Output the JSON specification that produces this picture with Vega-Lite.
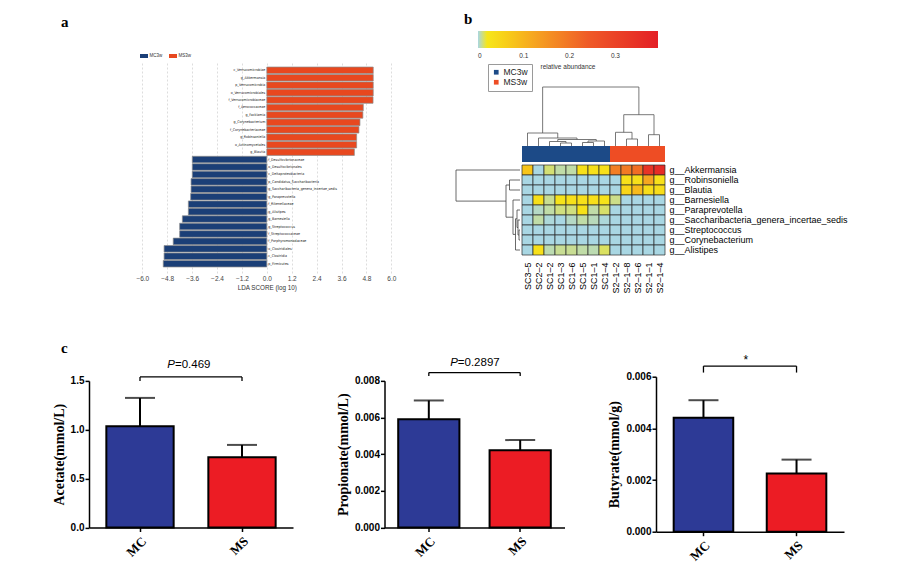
{
  "$schema": "https://vega.github.io/schema/vega-lite/v6.json",
  "background": "white",
  "padding": {"left": 52, "top": 12, "right": 10, "bottom": 10},
  "config": {
    "view": {"stroke": null},
    "axis": {"grid": false, "labelOverlap": false, "labelSeparation": 0},
    "font": "Liberation Sans"
  },
  "datasets": {
    "lda": [
      {"taxon": "c_Verrucomicrobiae", "lda": 5.13, "group": "MS3w"},
      {"taxon": "g_Akkermansia", "lda": 5.13, "group": "MS3w"},
      {"taxon": "p_Verrucomicrobia", "lda": 5.13, "group": "MS3w"},
      {"taxon": "o_Verrucomicrobiales", "lda": 5.13, "group": "MS3w"},
      {"taxon": "f_Verrucomicrobiaceae", "lda": 5.12, "group": "MS3w"},
      {"taxon": "f_Aerococcaceae", "lda": 4.65, "group": "MS3w"},
      {"taxon": "g_Facklamia", "lda": 4.63, "group": "MS3w"},
      {"taxon": "g_Corynebacterium", "lda": 4.49, "group": "MS3w"},
      {"taxon": "f_Corynebacteriaceae", "lda": 4.44, "group": "MS3w"},
      {"taxon": "g_Robinsoniella", "lda": 4.33, "group": "MS3w"},
      {"taxon": "o_Actinomycetales", "lda": 4.33, "group": "MS3w"},
      {"taxon": "g_Blautia", "lda": 4.22, "group": "MS3w"},
      {"taxon": "f_Desulfovibrionaceae", "lda": -3.59, "group": "MC3w"},
      {"taxon": "o_Desulfovibrionales", "lda": -3.59, "group": "MC3w"},
      {"taxon": "c_Deltaproteobacteria", "lda": -3.59, "group": "MC3w"},
      {"taxon": "p_Candidatus_Saccharibacteria", "lda": -3.65, "group": "MC3w"},
      {"taxon": "g_Saccharibacteria_genera_incertae_sedis", "lda": -3.65, "group": "MC3w"},
      {"taxon": "g_Paraprevotella", "lda": -3.67, "group": "MC3w"},
      {"taxon": "f_Rikenellaceae", "lda": -3.78, "group": "MC3w"},
      {"taxon": "g_Alistipes", "lda": -3.78, "group": "MC3w"},
      {"taxon": "g_Barnesiella", "lda": -4.07, "group": "MC3w"},
      {"taxon": "g_Streptococcus", "lda": -4.2, "group": "MC3w"},
      {"taxon": "f_Streptococcaceae", "lda": -4.2, "group": "MC3w"},
      {"taxon": "f_Porphyromonadaceae", "lda": -4.51, "group": "MC3w"},
      {"taxon": "o_Clostridiales", "lda": -4.95, "group": "MC3w"},
      {"taxon": "c_Clostridia", "lda": -4.95, "group": "MC3w"},
      {"taxon": "p_Firmicutes", "lda": -4.99, "group": "MC3w"}
    ],
    "samples": [
      {"sample": "SC3–5", "group": "MC3w"},
      {"sample": "SC2–2", "group": "MC3w"},
      {"sample": "SC1–2", "group": "MC3w"},
      {"sample": "SC1–3", "group": "MC3w"},
      {"sample": "SC1–6", "group": "MC3w"},
      {"sample": "SC1–5", "group": "MC3w"},
      {"sample": "SC1–1", "group": "MC3w"},
      {"sample": "SC1–4", "group": "MC3w"},
      {"sample": "S2–1–2", "group": "MS3w"},
      {"sample": "S2–1–8", "group": "MS3w"},
      {"sample": "S2–1–6", "group": "MS3w"},
      {"sample": "S2–1–1", "group": "MS3w"},
      {"sample": "S2–1–4", "group": "MS3w"}
    ],
    "heat": [
      {"genus": "g__Akkermansia", "sample": "SC3–5", "abundance": 0.075},
      {"genus": "g__Akkermansia", "sample": "SC2–2", "abundance": 0},
      {"genus": "g__Akkermansia", "sample": "SC1–2", "abundance": 0.011},
      {"genus": "g__Akkermansia", "sample": "SC1–3", "abundance": 0.006},
      {"genus": "g__Akkermansia", "sample": "SC1–6", "abundance": 0.006},
      {"genus": "g__Akkermansia", "sample": "SC1–5", "abundance": 0.03},
      {"genus": "g__Akkermansia", "sample": "SC1–1", "abundance": 0.03},
      {"genus": "g__Akkermansia", "sample": "SC1–4", "abundance": 0.03},
      {"genus": "g__Akkermansia", "sample": "S2–1–2", "abundance": 0.185},
      {"genus": "g__Akkermansia", "sample": "S2–1–8", "abundance": 0.19},
      {"genus": "g__Akkermansia", "sample": "S2–1–6", "abundance": 0.21},
      {"genus": "g__Akkermansia", "sample": "S2–1–1", "abundance": 0.34},
      {"genus": "g__Akkermansia", "sample": "S2–1–4", "abundance": 0.36},
      {"genus": "g__Robinsoniella", "sample": "SC3–5", "abundance": 0},
      {"genus": "g__Robinsoniella", "sample": "SC2–2", "abundance": 0},
      {"genus": "g__Robinsoniella", "sample": "SC1–2", "abundance": 0},
      {"genus": "g__Robinsoniella", "sample": "SC1–3", "abundance": 0},
      {"genus": "g__Robinsoniella", "sample": "SC1–6", "abundance": 0},
      {"genus": "g__Robinsoniella", "sample": "SC1–5", "abundance": 0},
      {"genus": "g__Robinsoniella", "sample": "SC1–1", "abundance": 0},
      {"genus": "g__Robinsoniella", "sample": "SC1–4", "abundance": 0},
      {"genus": "g__Robinsoniella", "sample": "S2–1–2", "abundance": 0},
      {"genus": "g__Robinsoniella", "sample": "S2–1–8", "abundance": 0.03},
      {"genus": "g__Robinsoniella", "sample": "S2–1–6", "abundance": 0.03},
      {"genus": "g__Robinsoniella", "sample": "S2–1–1", "abundance": 0.12},
      {"genus": "g__Robinsoniella", "sample": "S2–1–4", "abundance": 0.03},
      {"genus": "g__Blautia", "sample": "SC3–5", "abundance": 0},
      {"genus": "g__Blautia", "sample": "SC2–2", "abundance": 0},
      {"genus": "g__Blautia", "sample": "SC1–2", "abundance": 0},
      {"genus": "g__Blautia", "sample": "SC1–3", "abundance": 0},
      {"genus": "g__Blautia", "sample": "SC1–6", "abundance": 0},
      {"genus": "g__Blautia", "sample": "SC1–5", "abundance": 0},
      {"genus": "g__Blautia", "sample": "SC1–1", "abundance": 0},
      {"genus": "g__Blautia", "sample": "SC1–4", "abundance": 0},
      {"genus": "g__Blautia", "sample": "S2–1–2", "abundance": 0},
      {"genus": "g__Blautia", "sample": "S2–1–8", "abundance": 0.05},
      {"genus": "g__Blautia", "sample": "S2–1–6", "abundance": 0.09},
      {"genus": "g__Blautia", "sample": "S2–1–1", "abundance": 0.035},
      {"genus": "g__Blautia", "sample": "S2–1–4", "abundance": 0.035},
      {"genus": "g__Barnesiella", "sample": "SC3–5", "abundance": 0},
      {"genus": "g__Barnesiella", "sample": "SC2–2", "abundance": 0.03},
      {"genus": "g__Barnesiella", "sample": "SC1–2", "abundance": 0.008},
      {"genus": "g__Barnesiella", "sample": "SC1–3", "abundance": 0.025},
      {"genus": "g__Barnesiella", "sample": "SC1–6", "abundance": 0.03},
      {"genus": "g__Barnesiella", "sample": "SC1–5", "abundance": 0.03},
      {"genus": "g__Barnesiella", "sample": "SC1–1", "abundance": 0.03},
      {"genus": "g__Barnesiella", "sample": "SC1–4", "abundance": 0.025},
      {"genus": "g__Barnesiella", "sample": "S2–1–2", "abundance": 0.009},
      {"genus": "g__Barnesiella", "sample": "S2–1–8", "abundance": 0},
      {"genus": "g__Barnesiella", "sample": "S2–1–6", "abundance": 0},
      {"genus": "g__Barnesiella", "sample": "S2–1–1", "abundance": 0},
      {"genus": "g__Barnesiella", "sample": "S2–1–4", "abundance": 0},
      {"genus": "g__Paraprevotella", "sample": "SC3–5", "abundance": 0},
      {"genus": "g__Paraprevotella", "sample": "SC2–2", "abundance": 0.003},
      {"genus": "g__Paraprevotella", "sample": "SC1–2", "abundance": 0.006},
      {"genus": "g__Paraprevotella", "sample": "SC1–3", "abundance": 0.01},
      {"genus": "g__Paraprevotella", "sample": "SC1–6", "abundance": 0.01},
      {"genus": "g__Paraprevotella", "sample": "SC1–5", "abundance": 0.028},
      {"genus": "g__Paraprevotella", "sample": "SC1–1", "abundance": 0.006},
      {"genus": "g__Paraprevotella", "sample": "SC1–4", "abundance": 0.012},
      {"genus": "g__Paraprevotella", "sample": "S2–1–2", "abundance": 0},
      {"genus": "g__Paraprevotella", "sample": "S2–1–8", "abundance": 0},
      {"genus": "g__Paraprevotella", "sample": "S2–1–6", "abundance": 0},
      {"genus": "g__Paraprevotella", "sample": "S2–1–1", "abundance": 0},
      {"genus": "g__Paraprevotella", "sample": "S2–1–4", "abundance": 0},
      {"genus": "g__Saccharibacteria_genera_incertae_sedis", "sample": "SC3–5", "abundance": 0},
      {"genus": "g__Saccharibacteria_genera_incertae_sedis", "sample": "SC2–2", "abundance": 0.006},
      {"genus": "g__Saccharibacteria_genera_incertae_sedis", "sample": "SC1–2", "abundance": 0.001},
      {"genus": "g__Saccharibacteria_genera_incertae_sedis", "sample": "SC1–3", "abundance": 0},
      {"genus": "g__Saccharibacteria_genera_incertae_sedis", "sample": "SC1–6", "abundance": 0.003},
      {"genus": "g__Saccharibacteria_genera_incertae_sedis", "sample": "SC1–5", "abundance": 0.006},
      {"genus": "g__Saccharibacteria_genera_incertae_sedis", "sample": "SC1–1", "abundance": 0.004},
      {"genus": "g__Saccharibacteria_genera_incertae_sedis", "sample": "SC1–4", "abundance": 0.001},
      {"genus": "g__Saccharibacteria_genera_incertae_sedis", "sample": "S2–1–2", "abundance": 0},
      {"genus": "g__Saccharibacteria_genera_incertae_sedis", "sample": "S2–1–8", "abundance": 0},
      {"genus": "g__Saccharibacteria_genera_incertae_sedis", "sample": "S2–1–6", "abundance": 0},
      {"genus": "g__Saccharibacteria_genera_incertae_sedis", "sample": "S2–1–1", "abundance": 0},
      {"genus": "g__Saccharibacteria_genera_incertae_sedis", "sample": "S2–1–4", "abundance": 0},
      {"genus": "g__Streptococcus", "sample": "SC3–5", "abundance": 0},
      {"genus": "g__Streptococcus", "sample": "SC2–2", "abundance": 0},
      {"genus": "g__Streptococcus", "sample": "SC1–2", "abundance": 0},
      {"genus": "g__Streptococcus", "sample": "SC1–3", "abundance": 0},
      {"genus": "g__Streptococcus", "sample": "SC1–6", "abundance": 0},
      {"genus": "g__Streptococcus", "sample": "SC1–5", "abundance": 0},
      {"genus": "g__Streptococcus", "sample": "SC1–1", "abundance": 0},
      {"genus": "g__Streptococcus", "sample": "SC1–4", "abundance": 0},
      {"genus": "g__Streptococcus", "sample": "S2–1–2", "abundance": 0},
      {"genus": "g__Streptococcus", "sample": "S2–1–8", "abundance": 0},
      {"genus": "g__Streptococcus", "sample": "S2–1–6", "abundance": 0},
      {"genus": "g__Streptococcus", "sample": "S2–1–1", "abundance": 0},
      {"genus": "g__Streptococcus", "sample": "S2–1–4", "abundance": 0},
      {"genus": "g__Corynebacterium", "sample": "SC3–5", "abundance": 0},
      {"genus": "g__Corynebacterium", "sample": "SC2–2", "abundance": 0},
      {"genus": "g__Corynebacterium", "sample": "SC1–2", "abundance": 0},
      {"genus": "g__Corynebacterium", "sample": "SC1–3", "abundance": 0},
      {"genus": "g__Corynebacterium", "sample": "SC1–6", "abundance": 0},
      {"genus": "g__Corynebacterium", "sample": "SC1–5", "abundance": 0},
      {"genus": "g__Corynebacterium", "sample": "SC1–1", "abundance": 0},
      {"genus": "g__Corynebacterium", "sample": "SC1–4", "abundance": 0},
      {"genus": "g__Corynebacterium", "sample": "S2–1–2", "abundance": 0},
      {"genus": "g__Corynebacterium", "sample": "S2–1–8", "abundance": 0},
      {"genus": "g__Corynebacterium", "sample": "S2–1–6", "abundance": 0},
      {"genus": "g__Corynebacterium", "sample": "S2–1–1", "abundance": 0},
      {"genus": "g__Corynebacterium", "sample": "S2–1–4", "abundance": 0},
      {"genus": "g__Alistipes", "sample": "SC3–5", "abundance": 0},
      {"genus": "g__Alistipes", "sample": "SC2–2", "abundance": 0.03},
      {"genus": "g__Alistipes", "sample": "SC1–2", "abundance": 0.005},
      {"genus": "g__Alistipes", "sample": "SC1–3", "abundance": 0.008},
      {"genus": "g__Alistipes", "sample": "SC1–6", "abundance": 0.008},
      {"genus": "g__Alistipes", "sample": "SC1–5", "abundance": 0.006},
      {"genus": "g__Alistipes", "sample": "SC1–1", "abundance": 0.005},
      {"genus": "g__Alistipes", "sample": "SC1–4", "abundance": 0.013},
      {"genus": "g__Alistipes", "sample": "S2–1–2", "abundance": 0},
      {"genus": "g__Alistipes", "sample": "S2–1–8", "abundance": 0},
      {"genus": "g__Alistipes", "sample": "S2–1–6", "abundance": 0},
      {"genus": "g__Alistipes", "sample": "S2–1–1", "abundance": 0},
      {"genus": "g__Alistipes", "sample": "S2–1–4", "abundance": 0}
    ],
    "coltree": [
      {"x1": 2.375, "x2": 11.125, "h1": 59, "h2": 59},
      {"x1": 2.375, "x2": 2.375, "h1": 13, "h2": 59},
      {"x1": 11.125, "x2": 11.125, "h1": 31.3, "h2": 59},
      {"x1": 1, "x2": 3.75, "h1": 13, "h2": 13},
      {"x1": 1, "x2": 1, "h1": 0, "h2": 13},
      {"x1": 3.75, "x2": 3.75, "h1": 8, "h2": 13},
      {"x1": 2, "x2": 5.5, "h1": 8, "h2": 8},
      {"x1": 2, "x2": 2, "h1": 0, "h2": 8},
      {"x1": 5.5, "x2": 5.5, "h1": 6.5, "h2": 8},
      {"x1": 3.75, "x2": 7.25, "h1": 6.5, "h2": 6.5},
      {"x1": 3.75, "x2": 3.75, "h1": 4.5, "h2": 6.5},
      {"x1": 7.25, "x2": 7.25, "h1": 5, "h2": 6.5},
      {"x1": 3, "x2": 4.5, "h1": 4.5, "h2": 4.5},
      {"x1": 3, "x2": 3, "h1": 0, "h2": 4.5},
      {"x1": 4.5, "x2": 4.5, "h1": 3, "h2": 4.5},
      {"x1": 4, "x2": 5, "h1": 3, "h2": 3},
      {"x1": 4, "x2": 4, "h1": 0, "h2": 3},
      {"x1": 5, "x2": 5, "h1": 0, "h2": 3},
      {"x1": 6.5, "x2": 8, "h1": 5, "h2": 5},
      {"x1": 6.5, "x2": 6.5, "h1": 3.5, "h2": 5},
      {"x1": 8, "x2": 8, "h1": 0, "h2": 5},
      {"x1": 6, "x2": 7, "h1": 3.5, "h2": 3.5},
      {"x1": 6, "x2": 6, "h1": 0, "h2": 3.5},
      {"x1": 7, "x2": 7, "h1": 0, "h2": 3.5},
      {"x1": 9.75, "x2": 12.5, "h1": 31.3, "h2": 31.3},
      {"x1": 9.75, "x2": 9.75, "h1": 13.7, "h2": 31.3},
      {"x1": 12.5, "x2": 12.5, "h1": 11.3, "h2": 31.3},
      {"x1": 9, "x2": 10.5, "h1": 13.7, "h2": 13.7},
      {"x1": 9, "x2": 9, "h1": 0, "h2": 13.7},
      {"x1": 10.5, "x2": 10.5, "h1": 7, "h2": 13.7},
      {"x1": 10, "x2": 11, "h1": 7, "h2": 7},
      {"x1": 10, "x2": 10, "h1": 0, "h2": 7},
      {"x1": 11, "x2": 11, "h1": 0, "h2": 7},
      {"x1": 12, "x2": 13, "h1": 11.3, "h2": 11.3},
      {"x1": 12, "x2": 12, "h1": 0, "h2": 11.3},
      {"x1": 13, "x2": 13, "h1": 0, "h2": 11.3}
    ],
    "rowtree": [
      {"d1": 64, "d2": 64, "r1": 1, "r2": 4.11},
      {"d1": 0, "d2": 64, "r1": 1, "r2": 1},
      {"d1": 14, "d2": 64, "r1": 4.11, "r2": 4.11},
      {"d1": 14, "d2": 14, "r1": 2.5, "r2": 5.72},
      {"d1": 10.5, "d2": 14, "r1": 2.5, "r2": 2.5},
      {"d1": 7, "d2": 14, "r1": 5.72, "r2": 5.72},
      {"d1": 10.5, "d2": 10.5, "r1": 2, "r2": 3},
      {"d1": 0, "d2": 10.5, "r1": 2, "r2": 2},
      {"d1": 0, "d2": 10.5, "r1": 3, "r2": 3},
      {"d1": 7, "d2": 7, "r1": 4, "r2": 7.44},
      {"d1": 0, "d2": 7, "r1": 4, "r2": 4},
      {"d1": 4.5, "d2": 7, "r1": 7.44, "r2": 7.44},
      {"d1": 4.5, "d2": 4.5, "r1": 5.875, "r2": 9},
      {"d1": 3, "d2": 4.5, "r1": 5.875, "r2": 5.875},
      {"d1": 0, "d2": 4.5, "r1": 9, "r2": 9},
      {"d1": 3, "d2": 3, "r1": 5, "r2": 6.75},
      {"d1": 0, "d2": 3, "r1": 5, "r2": 5},
      {"d1": 2, "d2": 3, "r1": 6.75, "r2": 6.75},
      {"d1": 2, "d2": 2, "r1": 6, "r2": 7.5},
      {"d1": 0, "d2": 2, "r1": 6, "r2": 6},
      {"d1": 1, "d2": 2, "r1": 7.5, "r2": 7.5},
      {"d1": 1, "d2": 1, "r1": 7, "r2": 8},
      {"d1": 0, "d2": 1, "r1": 7, "r2": 7},
      {"d1": 0, "d2": 1, "r1": 8, "r2": 8}
    ],
    "scfa": [
      {"acid": "Acetate", "group": "MC", "mean": 1.037, "upper": 1.326},
      {"acid": "Acetate", "group": "MS", "mean": 0.72, "upper": 0.845},
      {"acid": "Propionate", "group": "MC", "mean": 0.00591, "upper": 0.00693},
      {"acid": "Propionate", "group": "MS", "mean": 0.00422, "upper": 0.00477},
      {"acid": "Butyrate", "group": "MC", "mean": 0.00441, "upper": 0.00509},
      {"acid": "Butyrate", "group": "MS", "mean": 0.00225, "upper": 0.00279}
    ],
    "brackets": [
      {"acid": "Acetate", "left": "MC", "right": "MS", "top": 1.541, "bottom": 1.5, "label_y": 1.665, "p_symbol": "P", "p_value": "=0.469"},
      {"acid": "Propionate", "left": "MC", "right": "MS", "top": 0.00845, "bottom": 0.00826, "label_y": 0.0090, "p_symbol": "P", "p_value": "=0.2897"},
      {"acid": "Butyrate", "left": "MC", "right": "MS", "top": 0.00641, "bottom": 0.00616, "label_y": 0.00666, "p_symbol": "", "p_value": "*"}
    ]
  },
  "bounds": "flush",
  "spacing": 315.7,
  "resolve": {"scale": {"color": "independent"}, "legend": {"color": "independent"}},
  "vconcat": [
    {
      "bounds": "flush",
      "spacing": 2,
      "resolve": {"scale": {"color": "independent"}, "legend": {"color": "independent"}},
      "hconcat": [
        {
          "width": 302.3,
          "height": 212,
          "data": {"name": "lda"},
          "title": {"text": "a", "anchor": "start", "frame": "group", "dx": -28, "offset": 22, "font": "Liberation Serif", "fontSize": 15, "fontWeight": "bold", "color": "black"},
          "encoding": {
            "y": {"field": "taxon", "type": "nominal", "sort": null, "axis": null, "scale": {"paddingInner": 0.12, "paddingOuter": 0.81}},
            "x": {
              "field": "lda", "type": "quantitative",
              "scale": {"domain": [-8.569, 6], "nice": false, "zero": false},
              "axis": {
                "values": [-6, -4.8, -3.6, -2.4, -1.2, 0, 1.2, 2.4, 3.6, 4.8, 6], "tickCount": 20,
                "format": ".1f", "grid": true, "gridDash": [2, 2], "gridColor": "#cfcfcf", "gridWidth": 0.7,
                "domain": false, "ticks": false, "labelOverlap": false, "labelSeparation": 0, "labelBound": false, "labelFlush": false,
                "labelFont": "Liberation Sans", "labelFontSize": 6.5, "labelColor": "#444", "labelPadding": 2,
                "title": "LDA SCORE (log 10)", "titleFont": "Liberation Sans",
                "titleFontSize": 6.3, "titleFontWeight": "normal", "titleColor": "#333",
                "titleX": 177.8, "titleAlign": "center", "titlePadding": 3
              }
            }
          },
          "layer": [
            {
              "mark": {"type": "bar", "stroke": "#8c8c8c", "strokeWidth": 0.7},
              "encoding": {
                "color": {
                  "field": "group", "type": "nominal",
                  "scale": {"domain": ["MC3w", "MS3w"], "range": ["#1b3f77", "#e8481f"]},
                  "legend": {
                    "orient": "none", "legendX": 51, "legendY": -9, "direction": "horizontal", "title": null,
                    "symbolType": "M-1,-0.5H1V0.5H-1Z", "symbolSize": 64, "symbolStrokeWidth": 0,
                    "labelFontSize": 4.5, "labelOffset": 1.5, "columnPadding": 6, "padding": 0,
                    "labelColor": "#333"
                  }
                }
              }
            },
            {
              "transform": [{"filter": "datum.lda > 0"}],
              "mark": {"type": "text", "align": "right", "baseline": "middle", "dx": -1.5, "fontSize": 3.6, "font": "Liberation Sans Narrow, DejaVu Sans Condensed, sans-serif", "color": "#222"},
              "encoding": {"x": {"datum": 0, "type": "quantitative"}, "text": {"field": "taxon"}}
            },
            {
              "transform": [{"filter": "datum.lda < 0"}],
              "mark": {"type": "text", "align": "left", "baseline": "middle", "dx": 1.5, "fontSize": 3.6, "font": "Liberation Sans Narrow, DejaVu Sans Condensed, sans-serif", "color": "#222"},
              "encoding": {"x": {"datum": 0, "type": "quantitative"}, "text": {"field": "taxon"}}
            }
          ]
        },
        {
          "width": 60,
          "height": 1,
          "data": {"values": []},
          "mark": {"type": "point", "opacity": 0},
          "encoding": {}
        },
        {
          "width": 64,
          "height": 194,
          "data": {"name": "rowtree"},
          "mark": {"type": "rule", "color": "#444", "strokeWidth": 0.8},
          "encoding": {
            "x": {"field": "d1", "type": "quantitative", "scale": {"domain": [0, 64], "reverse": true, "nice": false, "zero": false}, "axis": null},
            "x2": {"field": "d2"},
            "y": {"field": "r1", "type": "quantitative", "scale": {"domain": [-9.9, 9.5], "reverse": true, "nice": false, "zero": false}, "axis": null},
            "y2": {"field": "r2"}
          }
        },
        {
          "width": 143,
          "height": 194,
          "title": {"text": "b", "anchor": "start", "frame": "group", "dx": -58, "offset": 4, "font": "Liberation Serif", "fontSize": 15, "fontWeight": "bold", "color": "black"},
          "resolve": {"scale": {"x": "independent", "y": "independent", "color": "independent"}, "legend": {"color": "independent"}},
          "layer": [
            {
              "data": {"name": "coltree"},
              "mark": {"type": "rule", "color": "#555", "strokeWidth": 0.8},
              "encoding": {
                "x": {"field": "x1", "type": "quantitative", "scale": {"domain": [0.5, 13.5], "nice": false, "zero": false}, "axis": null},
                "x2": {"field": "x2"},
                "y": {"field": "h1", "type": "quantitative", "scale": {"domain": [-109, 85], "nice": false, "zero": false}, "axis": null},
                "y2": {"field": "h2"}
              }
            },
            {
              "data": {"name": "samples"},
              "mark": {"type": "rect"},
              "encoding": {
                "x": {"field": "sample", "type": "nominal", "sort": null, "axis": null, "scale": {"paddingInner": 0, "paddingOuter": 0}},
                "y": {"datum": 0, "type": "quantitative", "scale": {"domain": [-109, 85], "nice": false, "zero": false}, "axis": null},
                "y2": {"datum": -16},
                "color": {
                  "field": "group", "type": "nominal",
                  "scale": {"domain": ["MC3w", "MS3w"], "range": ["#1c4a87", "#ee4d24"]},
                  "legend": {
                    "orient": "none", "legendX": -34, "legendY": 3, "title": null,
                    "strokeColor": "#9a9a9a", "padding": 4, "symbolType": "square", "symbolSize": 22,
                    "symbolStrokeWidth": 0, "labelFontSize": 8.5, "labelFont": "Liberation Sans",
                    "labelColor": "#222", "rowPadding": 1, "labelOffset": 3
                  }
                }
              }
            },
            {
              "data": {"name": "heat"},
              "mark": {"type": "rect", "stroke": "#2a2a2a", "strokeWidth": 0.7},
              "encoding": {
                "x": {
                  "field": "sample", "type": "nominal", "sort": null,
                  "scale": {"paddingInner": 0, "paddingOuter": 0},
                  "axis": {"orient": "bottom", "title": null, "labelAngle": -90, "labelFontSize": 9, "labelFont": "Liberation Sans", "labelColor": "black", "domain": false, "ticks": false, "labelPadding": 7}
                },
                "y": {
                  "field": "genus", "type": "nominal", "sort": null,
                  "scale": {"paddingInner": 0, "paddingOuter": 0, "range": [104, 194]},
                  "axis": {"orient": "right", "title": null, "labelFontSize": 9, "labelFont": "Liberation Sans", "labelColor": "black", "domain": false, "ticks": false, "labelPadding": 4}
                },
                "color": {
                  "field": "abundance", "type": "quantitative",
                  "scale": {"domain": [0, 0.02, 0.06, 0.13, 0.24, 0.393], "range": ["#a9d7e3", "#f6e61a", "#f8cf18", "#f6a021", "#ef5b27", "#e41f26"], "interpolate": "rgb"},
                  "legend": {
                    "orient": "none", "legendX": -44, "legendY": -30, "direction": "horizontal",
                    "gradientLength": 180, "gradientThickness": 17, "gradientStrokeWidth": 0,
                    "values": [0, 0.1, 0.2, 0.3], "format": ".1~f",
                    "labelFontSize": 6.5, "labelColor": "#333", "labelOffset": 5,
                    "title": "relative abundance", "titleOrient": "bottom", "titleAnchor": "middle",
                    "titleFontSize": 6.5, "titleFontWeight": "normal", "titleColor": "#333", "titlePadding": 4,
                    "padding": 0
                  }
                }
              }
            }
          ]
        }
      ]
    },
    {
      "bounds": "flush",
      "spacing": 91.5,
      "center": true,
      "hconcat": [
        {
          "width": 204,
          "height": 146.6,
          "title": {"text": "c", "anchor": "start", "frame": "group", "dx": -28, "offset": 3, "font": "Liberation Serif", "fontSize": 15, "fontWeight": "bold", "color": "black"},
          "layer": [
            {
              "data": {"name": "scfa"},
              "transform": [{"filter": "datum.acid === 'Acetate'"}],
              "mark": {"type": "bar", "stroke": "black", "strokeWidth": 2},
              "encoding": {
                "x": {
                  "field": "group", "type": "nominal", "sort": null,
                  "scale": {"paddingInner": 0.34, "paddingOuter": 0.17},
                  "axis": {"title": null, "labelAngle": -45, "labelFont": "Liberation Serif", "labelFontWeight": "bold", "labelFontSize": 13, "labelColor": "black", "tickSize": 4, "tickColor": "black", "tickWidth": 1.5, "domainColor": "black", "domainWidth": 1.5, "labelPadding": 3}
                },
                "y": {
                  "field": "mean", "type": "quantitative",
                  "scale": {"domain": [0, 1.5], "nice": false},
                  "axis": {"title": "Acetate(mmol/L)", "values": [0, 0.5, 1, 1.5], "tickCount": 20, "format": ".1f", "labelOverlap": false, "titleFont": "Liberation Serif", "titleFontSize": 14, "titleFontWeight": "bold", "titleColor": "black", "titlePadding": 4, "labelFont": "Liberation Sans", "labelFontWeight": "bold", "labelFontSize": 10, "labelColor": "black", "labelPadding": 1, "tickSize": 4, "tickColor": "black", "tickWidth": 1.5, "domainColor": "black", "domainWidth": 1.5}
                },
                "color": {"field": "group", "type": "nominal", "scale": {"domain": ["MC", "MS"], "range": ["#2d3a96", "#ec1c24"]}, "legend": null}
              }
            },
            {
              "data": {"name": "scfa"},
              "transform": [{"filter": "datum.acid === 'Acetate'"}],
              "mark": {"type": "rule", "strokeWidth": 2, "color": "black"},
              "encoding": {"x": {"field": "group", "type": "nominal", "sort": null}, "y": {"field": "mean", "type": "quantitative"}, "y2": {"field": "upper"}}
            },
            {
              "data": {"name": "scfa"},
              "transform": [{"filter": "datum.acid === 'Acetate'"}],
              "mark": {"type": "tick", "thickness": 2, "size": 30, "color": "black"},
              "encoding": {"x": {"field": "group", "type": "nominal", "sort": null}, "y": {"field": "upper", "type": "quantitative"}}
            },
            {
              "data": {"name": "brackets"},
              "transform": [{"filter": "datum.acid === 'Acetate'"}],
              "mark": {"type": "rule", "strokeWidth": 1.3, "color": "black"},
              "encoding": {"x": {"field": "left", "type": "nominal"}, "x2": {"field": "right"}, "y": {"field": "top", "type": "quantitative"}}
            },
            {
              "data": {"name": "brackets"},
              "transform": [{"filter": "datum.acid === 'Acetate'"}, {"fold": ["left", "right"], "as": ["side", "end"]}],
              "mark": {"type": "rule", "strokeWidth": 1.3, "color": "black"},
              "encoding": {"x": {"field": "end", "type": "nominal"}, "y": {"field": "top", "type": "quantitative"}, "y2": {"field": "bottom"}}
            },
            {
              "data": {"name": "brackets"},
              "transform": [{"filter": "datum.acid === 'Acetate'"}],
              "mark": {"type": "text", "align": "right", "baseline": "middle", "dx": 35, "fontStyle": "italic", "fontSize": 11.5, "font": "Liberation Sans", "color": "black"},
              "encoding": {"x": {"field": "left", "type": "nominal"}, "y": {"field": "label_y", "type": "quantitative"}, "text": {"field": "p_symbol"}}
            },
            {
              "data": {"name": "brackets"},
              "transform": [{"filter": "datum.acid === 'Acetate'"}],
              "mark": {"type": "text", "align": "left", "baseline": "middle", "dx": 35, "fontSize": 11.5, "font": "Liberation Sans", "color": "black"},
              "encoding": {"x": {"field": "left", "type": "nominal"}, "y": {"field": "label_y", "type": "quantitative"}, "text": {"field": "p_value"}}
            }
          ]
        },
        {
          "width": 180,
          "height": 146.7,
          "layer": [
            {
              "data": {"name": "scfa"},
              "transform": [{"filter": "datum.acid === 'Propionate'"}],
              "mark": {"type": "bar", "stroke": "black", "strokeWidth": 2},
              "encoding": {
                "x": {
                  "field": "group", "type": "nominal", "sort": null,
                  "scale": {"paddingInner": 0.33, "paddingOuter": 0.15},
                  "axis": {"title": null, "labelAngle": -45, "labelFont": "Liberation Serif", "labelFontWeight": "bold", "labelFontSize": 13, "labelColor": "black", "tickSize": 4, "tickColor": "black", "tickWidth": 1.5, "domainColor": "black", "domainWidth": 1.5, "labelPadding": 3}
                },
                "y": {
                  "field": "mean", "type": "quantitative",
                  "scale": {"domain": [0, 0.008], "nice": false},
                  "axis": {"title": "Propionate(mmol/L)", "values": [0, 0.002, 0.004, 0.006, 0.008], "tickCount": 20, "format": ".3f", "labelOverlap": false, "titleFont": "Liberation Serif", "titleFontSize": 14, "titleFontWeight": "bold", "titleColor": "black", "titlePadding": 4, "labelFont": "Liberation Sans", "labelFontWeight": "bold", "labelFontSize": 10, "labelColor": "black", "labelPadding": 1, "tickSize": 4, "tickColor": "black", "tickWidth": 1.5, "domainColor": "black", "domainWidth": 1.5}
                },
                "color": {"field": "group", "type": "nominal", "scale": {"domain": ["MC", "MS"], "range": ["#2d3a96", "#ec1c24"]}, "legend": null}
              }
            },
            {
              "data": {"name": "scfa"},
              "transform": [{"filter": "datum.acid === 'Propionate'"}],
              "mark": {"type": "rule", "strokeWidth": 2, "color": "black"},
              "encoding": {"x": {"field": "group", "type": "nominal", "sort": null}, "y": {"field": "mean", "type": "quantitative"}, "y2": {"field": "upper"}}
            },
            {
              "data": {"name": "scfa"},
              "transform": [{"filter": "datum.acid === 'Propionate'"}],
              "mark": {"type": "tick", "thickness": 2, "size": 30, "color": "black"},
              "encoding": {"x": {"field": "group", "type": "nominal", "sort": null}, "y": {"field": "upper", "type": "quantitative"}}
            },
            {
              "data": {"name": "brackets"},
              "transform": [{"filter": "datum.acid === 'Propionate'"}],
              "mark": {"type": "rule", "strokeWidth": 1.3, "color": "black"},
              "encoding": {"x": {"field": "left", "type": "nominal"}, "x2": {"field": "right"}, "y": {"field": "top", "type": "quantitative"}}
            },
            {
              "data": {"name": "brackets"},
              "transform": [{"filter": "datum.acid === 'Propionate'"}, {"fold": ["left", "right"], "as": ["side", "end"]}],
              "mark": {"type": "rule", "strokeWidth": 1.3, "color": "black"},
              "encoding": {"x": {"field": "end", "type": "nominal"}, "y": {"field": "top", "type": "quantitative"}, "y2": {"field": "bottom"}}
            },
            {
              "data": {"name": "brackets"},
              "transform": [{"filter": "datum.acid === 'Propionate'"}],
              "mark": {"type": "text", "align": "right", "baseline": "middle", "dx": 29, "fontStyle": "italic", "fontSize": 11.5, "font": "Liberation Sans", "color": "black"},
              "encoding": {"x": {"field": "left", "type": "nominal"}, "y": {"field": "label_y", "type": "quantitative"}, "text": {"field": "p_symbol"}}
            },
            {
              "data": {"name": "brackets"},
              "transform": [{"filter": "datum.acid === 'Propionate'"}],
              "mark": {"type": "text", "align": "left", "baseline": "middle", "dx": 29, "fontSize": 11.5, "font": "Liberation Sans", "color": "black"},
              "encoding": {"x": {"field": "left", "type": "nominal"}, "y": {"field": "label_y", "type": "quantitative"}, "text": {"field": "p_value"}}
            }
          ]
        },
        {
          "width": 188,
          "height": 155,
          "layer": [
            {
              "data": {"name": "scfa"},
              "transform": [{"filter": "datum.acid === 'Butyrate'"}],
              "mark": {"type": "bar", "stroke": "black", "strokeWidth": 2},
              "encoding": {
                "x": {
                  "field": "group", "type": "nominal", "sort": null,
                  "scale": {"paddingInner": 0.36, "paddingOuter": 0.19},
                  "axis": {"title": null, "labelAngle": -45, "labelFont": "Liberation Serif", "labelFontWeight": "bold", "labelFontSize": 13, "labelColor": "black", "tickSize": 4, "tickColor": "black", "tickWidth": 1.5, "domainColor": "black", "domainWidth": 1.5, "labelPadding": 3}
                },
                "y": {
                  "field": "mean", "type": "quantitative",
                  "scale": {"domain": [0, 0.006], "nice": false},
                  "axis": {"title": "Butyrate(mmol/g)", "values": [0, 0.002, 0.004, 0.006], "tickCount": 20, "format": ".3f", "labelOverlap": false, "titleFont": "Liberation Serif", "titleFontSize": 14, "titleFontWeight": "bold", "titleColor": "black", "titlePadding": 4, "labelFont": "Liberation Sans", "labelFontWeight": "bold", "labelFontSize": 10, "labelColor": "black", "labelPadding": 1, "tickSize": 4, "tickColor": "black", "tickWidth": 1.5, "domainColor": "black", "domainWidth": 1.5}
                },
                "color": {"field": "group", "type": "nominal", "scale": {"domain": ["MC", "MS"], "range": ["#2d3a96", "#ec1c24"]}, "legend": null}
              }
            },
            {
              "data": {"name": "scfa"},
              "transform": [{"filter": "datum.acid === 'Butyrate'"}],
              "mark": {"type": "rule", "strokeWidth": 2, "color": "black"},
              "encoding": {"x": {"field": "group", "type": "nominal", "sort": null}, "y": {"field": "mean", "type": "quantitative"}, "y2": {"field": "upper"}}
            },
            {
              "data": {"name": "scfa"},
              "transform": [{"filter": "datum.acid === 'Butyrate'"}],
              "mark": {"type": "tick", "thickness": 2, "size": 30, "color": "black"},
              "encoding": {"x": {"field": "group", "type": "nominal", "sort": null}, "y": {"field": "upper", "type": "quantitative"}}
            },
            {
              "data": {"name": "brackets"},
              "transform": [{"filter": "datum.acid === 'Butyrate'"}],
              "mark": {"type": "rule", "strokeWidth": 1.3, "color": "black"},
              "encoding": {"x": {"field": "left", "type": "nominal"}, "x2": {"field": "right"}, "y": {"field": "top", "type": "quantitative"}}
            },
            {
              "data": {"name": "brackets"},
              "transform": [{"filter": "datum.acid === 'Butyrate'"}, {"fold": ["left", "right"], "as": ["side", "end"]}],
              "mark": {"type": "rule", "strokeWidth": 1.3, "color": "black"},
              "encoding": {"x": {"field": "end", "type": "nominal"}, "y": {"field": "top", "type": "quantitative"}, "y2": {"field": "bottom"}}
            },
            {
              "data": {"name": "brackets"},
              "transform": [{"filter": "datum.acid === 'Butyrate'"}],
              "mark": {"type": "text", "align": "left", "baseline": "middle", "dx": 40, "fontSize": 12, "font": "Liberation Sans", "color": "black"},
              "encoding": {"x": {"field": "left", "type": "nominal"}, "y": {"field": "label_y", "type": "quantitative"}, "text": {"field": "p_value"}}
            }
          ]
        }
      ]
    }
  ]
}
